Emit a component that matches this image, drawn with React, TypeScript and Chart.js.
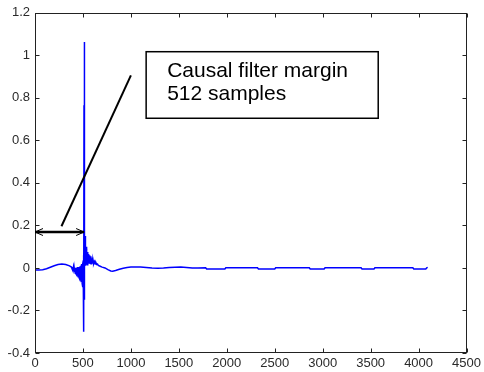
import React, { useEffect, useRef } from "react";
import { Chart, registerables } from "chart.js";

Chart.register(...registerables);

// Sample index (x) and impulse-response amplitude (y)
const sampleIndex = [
  0, 40, 80, 120, 160, 200, 240, 280, 320, 360, 380,
  388, 392, 396, 400, 404, 408, 412, 416, 420, 424, 428, 432, 436, 440, 444, 448,
  452, 456, 460, 464, 468, 472, 476, 480, 484, 488, 492, 496, 500, 502, 504, 506, 508, 509,
  510, 511, 512, 513, 514, 515, 516, 517, 518, 520, 522, 524, 526, 528, 532, 536, 540,
  544, 548, 552, 556, 560, 564, 568, 572, 576, 580, 584, 588, 592, 596, 600, 606, 612,
  620, 628, 636, 644, 652, 660,
  680, 700, 730, 760, 790, 810, 840, 880, 920, 960, 1000, 1040, 1100, 1160, 1220, 1280,
  1340, 1400, 1460, 1520, 1580, 1640, 1700, 1779, 1790, 1980, 1990, 2320, 2330, 2500,
  2510, 2860, 2870, 3015, 3025, 3400, 3410, 3535, 3545, 3940, 3950, 4075, 4085, 4095,
];
const amplitude = [
  -0.01, -0.01, -0.008, -0.004, 0.003, 0.01, 0.016, 0.018, 0.016, 0.01, 0.004,
  -0.006, 0.004, -0.012, 0.002, -0.016, 0.002, -0.02, 0.0, -0.025, 0.0, -0.029, 0.002, -0.033, 0.002, -0.037, 0.004,
  -0.041, 0.004, -0.047, 0.006, -0.053, 0.008, -0.06, 0.012, -0.066, 0.018, -0.074, 0.026, -0.09, 0.035, -0.12, 0.05, -0.18, 0.06,
  -0.3, 0.765, 1.063, -0.15, 0.42, -0.06, 0.22, -0.02, 0.18, 0.0, 0.15, 0.01, 0.12, 0.01, 0.1, 0.015, 0.085,
  0.015, 0.075, 0.02, 0.065, 0.02, 0.058, 0.022, 0.06, 0.022, 0.055, 0.02, 0.045, 0.022, 0.04, 0.02, 0.035, 0.02,
  0.03, 0.018, 0.024, 0.016, 0.018, 0.012,
  0.008, 0.004, 0.0, -0.008, -0.014, -0.015, -0.012, -0.006, -0.001, 0.002, 0.004, 0.005, 0.004, 0.002, 0.0, -0.001,
  0.0, 0.002, 0.003, 0.004, 0.002, 0.0, 0.0, 0.001, -0.005, -0.005, 0.001, 0.001, -0.005, -0.005,
  0.001, 0.001, -0.005, -0.005, 0.001, 0.001, -0.005, -0.005, 0.001, 0.001, -0.005, -0.005, 0.001, 0.003,
];

const xTicks = [0, 500, 1000, 1500, 2000, 2500, 3000, 3500, 4000, 4500];
const yTicks = [-0.4, -0.2, 0, 0.2, 0.4, 0.6, 0.8, 1, 1.2];

const noteLines = ["Causal filter margin", "512 samples"];
const marginSamples = 512;
const arrowLevel = 0.169;
const calloutFrom = { x: 276, y: 0.196 };
const calloutTo = { x: 1000, y: 0.906 };
const noteBox = { x0: 1159, x1: 3579, y0: 1.017, y1: 0.704 };

const FONT = '"Liberation Sans", Arial, Helvetica, sans-serif';

export default function App() {
  const ref = useRef<HTMLCanvasElement | null>(null);

  useEffect(() => {
    document.body.style.margin = "0";
    const canvas = ref.current;
    if (!canvas) return;

    const overlay = {
      id: "overlay",
      afterDraw(chart: any) {
        const { ctx, chartArea: a } = chart;
        const xs = chart.scales.x;
        const ys = chart.scales.y;
        ctx.save();
        const L = Math.round(a.left) + 0.5;
        const R = Math.round(a.right) - 0.5;
        const T = Math.round(a.top) + 0.5;
        const B = Math.round(a.bottom) - 0.5;
        // frame
        ctx.strokeStyle = "#222";
        ctx.lineWidth = 1;
        ctx.strokeRect(L, T, R - L, B - T);
        // ticks (inward, all four sides)
        const tl = 4;
        ctx.beginPath();
        xTicks.forEach((v) => {
          const px = Math.round(xs.getPixelForValue(v)) + 0.5;
          ctx.moveTo(px, B);
          ctx.lineTo(px, B - tl);
          ctx.moveTo(px, T);
          ctx.lineTo(px, T + tl);
        });
        yTicks.forEach((v) => {
          const py = Math.round(ys.getPixelForValue(v)) + 0.5;
          ctx.moveTo(L, py);
          ctx.lineTo(L + tl, py);
          ctx.moveTo(R, py);
          ctx.lineTo(R - tl, py);
        });
        ctx.stroke();

        // callout line
        ctx.strokeStyle = "#000";
        ctx.lineWidth = 2;
        ctx.beginPath();
        ctx.moveTo(xs.getPixelForValue(calloutFrom.x), ys.getPixelForValue(calloutFrom.y));
        ctx.lineTo(xs.getPixelForValue(calloutTo.x), ys.getPixelForValue(calloutTo.y));
        ctx.stroke();

        // double arrow
        const ay = ys.getPixelForValue(arrowLevel);
        const ax0 = xs.getPixelForValue(0);
        const ax1 = xs.getPixelForValue(marginSamples);
        ctx.lineWidth = 2.5;
        ctx.beginPath();
        ctx.moveTo(ax0, ay);
        ctx.lineTo(ax1, ay);
        ctx.stroke();
        ctx.lineWidth = 1;
        ctx.beginPath();
        ctx.moveTo(ax0 + 8, ay - 3.5);
        ctx.lineTo(ax0, ay);
        ctx.lineTo(ax0 + 8, ay + 3.5);
        ctx.moveTo(ax1 - 8, ay - 3.5);
        ctx.lineTo(ax1, ay);
        ctx.lineTo(ax1 - 8, ay + 3.5);
        ctx.stroke();

        // note box
        const bx0 = xs.getPixelForValue(noteBox.x0);
        const bx1 = xs.getPixelForValue(noteBox.x1);
        const by0 = ys.getPixelForValue(noteBox.y0);
        const by1 = ys.getPixelForValue(noteBox.y1);
        ctx.fillStyle = "#fff";
        ctx.fillRect(bx0, by0, bx1 - bx0, by1 - by0);
        ctx.lineWidth = 1.5;
        ctx.strokeStyle = "#000";
        ctx.strokeRect(bx0, by0, bx1 - bx0, by1 - by0);
        ctx.fillStyle = "#000";
        ctx.font = `21px ${FONT}`;
        ctx.textAlign = "left";
        ctx.textBaseline = "alphabetic";
        noteLines.forEach((t, i) => {
          ctx.fillText(t, bx0 + 21, by0 + 25.5 + i * 23);
        });
        ctx.restore();
      },
    };

    const fmt = (v: number) => String(Number(Number(v).toFixed(1)));

    const chart = new Chart(canvas, {
      type: "line",
      data: {
        datasets: [
          {
            data: sampleIndex.map((x, i) => ({ x, y: amplitude[i] })),
            borderColor: "#0000ff",
            borderWidth: 1.5,
            pointRadius: 0,
            tension: 0,
            fill: false,
          },
        ],
      },
      options: {
        responsive: false,
        animation: false,
        parsing: false as any,
        normalized: true,
        layout: { padding: { top: 10, right: 14, bottom: 0, left: 0 } },
        plugins: {
          legend: { display: false },
          tooltip: { enabled: false },
          decimation: { enabled: false },
        },
        scales: {
          x: {
            type: "linear",
            min: 0,
            max: 4500,
            grid: { display: false, drawTicks: false },
            border: { display: false },
            afterBuildTicks: (s: any) => {
              s.ticks = xTicks.map((value) => ({ value }));
            },
            afterFit: (s: any) => {
              s.height = 19;
            },
            ticks: {
              autoSkip: false,
              maxRotation: 0,
              padding: 3,
              color: "#2a2a2a",
              font: { family: FONT, size: 13 },
              callback: (v: any) => String(v),
            },
          },
          y: {
            type: "linear",
            min: -0.4,
            max: 1.2,
            grid: { display: false, drawTicks: false },
            border: { display: false },
            afterBuildTicks: (s: any) => {
              s.ticks = yTicks.map((value) => ({ value }));
            },
            afterFit: (s: any) => {
              s.width = 35;
            },
            ticks: {
              autoSkip: false,
              padding: 5,
              color: "#2a2a2a",
              font: { family: FONT, size: 13 },
              callback: (v: any) => fmt(v),
            },
          },
        },
      },
      plugins: [overlay],
    });

    return () => chart.destroy();
  }, []);

  return (
    <div style={{ position: "absolute", left: 0, top: 0, width: 484, height: 372, background: "#fff" }}>
      <canvas ref={ref} width={484} height={372} style={{ display: "block" }} />
    </div>
  );
}
